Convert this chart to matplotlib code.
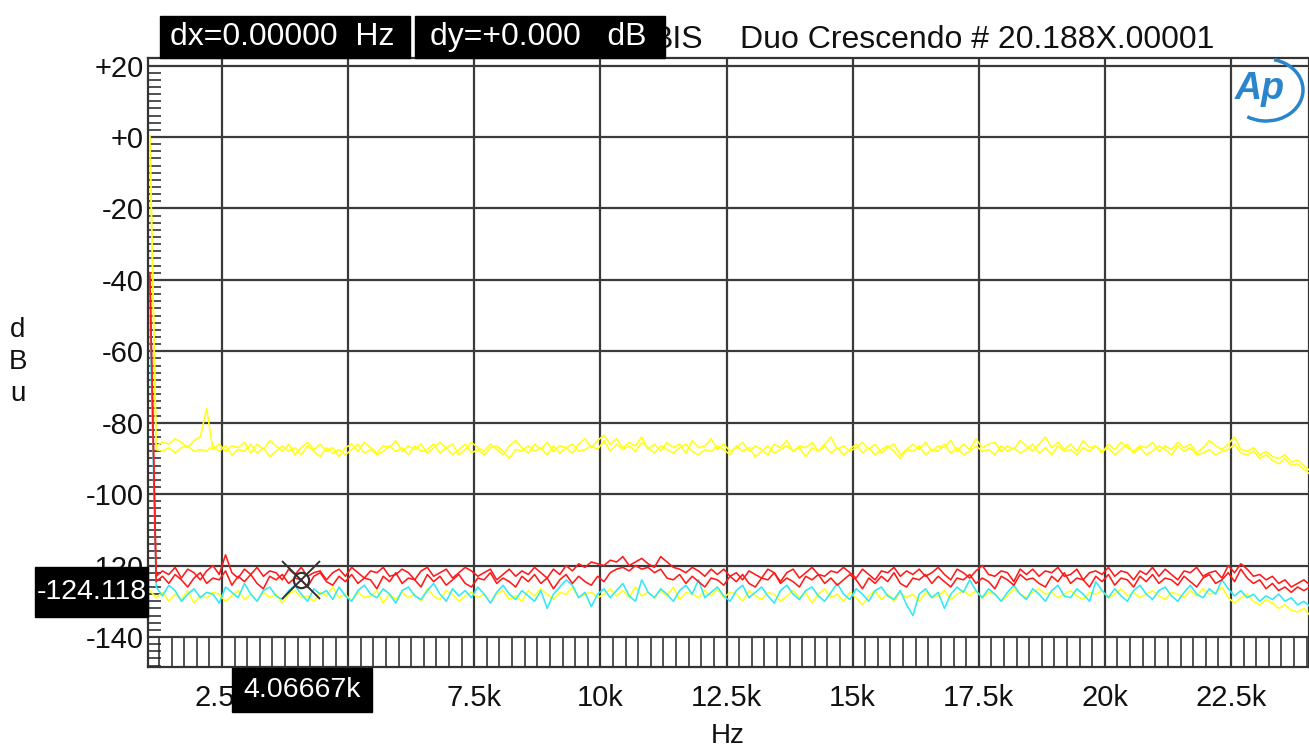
import numpy as np
import matplotlib.pyplot as plt
from matplotlib.patches import Rectangle, Arc

plt.rcParams['font.family'] = ['Liberation Sans', 'DejaVu Sans']

# FFT bins: first bin and spacing (Hz)
F0 = 1070.0
DF = 125.0

# upper yellow pair (dBu)
yel_a = [0.0,
    -86.5, -85.5, -86, -84.5, -85.5, -87, -85, -84, -76, -87.5,
    -86, -88, -86.5, -87, -85.5, -88.5, -86, -87.5, -85, -86.5,
    -88, -86, -89, -87, -85.5, -87.5, -86, -88, -87, -89.5,
    -87, -86, -88, -85.5, -87, -88.5, -86.5, -87, -85, -88,
    -86.5, -87.5, -86, -88.5, -87, -85.5, -87, -86, -89, -87.5,
    -85.5, -87, -88, -86, -87.5, -89, -86.5, -85, -87, -88.5,
    -86, -87.5, -85.5, -88, -86.5, -87, -88.5, -86, -84.5, -87,
    -85, -83.5, -86, -84.5, -87, -85.5, -86.5, -84, -87.5, -86,
    -88, -85.5, -87, -86, -88.5, -85, -87, -86.5, -84.5, -87.5,
    -86, -88, -87, -85.5, -88, -86.5, -87.5, -89, -86, -87,
    -85, -88, -86.5, -87, -85.5, -88, -86, -84, -87.5, -86.5,
    -88, -87, -85.5, -87.5, -86, -88.5, -87, -86, -89, -87.5,
    -86, -87.5, -85.5, -88, -86.5, -87, -85, -88, -86, -87.5,
    -84.5, -87, -86, -85.5, -88, -86.5, -87.5, -85, -86.5, -88,
    -86, -84, -87, -85.5, -87.5, -86, -88, -85, -87, -86.5,
    -88.5, -86, -87.5, -85.5, -87, -88, -86.5, -87, -85.5, -88,
    -86.5, -87.5, -85.5, -87, -86, -88.5, -87, -85, -86.5, -87.5,
    -86, -84, -87.5, -88, -87, -89, -88, -89.5, -90, -89,
    -91, -90.5, -92, -93.5]
yel_b = [0.0,
    -87.5, -88, -87, -88.5, -87, -86.5, -88, -87.5, -88, -86.5,
    -88, -86.5, -89, -87.5, -88, -86, -88.5, -87, -89.5, -88,
    -86.5, -88, -87, -89, -86.5, -88, -89.5, -87, -88.5, -87.5,
    -89, -87.5, -86, -88.5, -87.5, -89, -88, -86.5, -88, -87,
    -89, -86.5, -88, -87.5, -86, -88.5, -87, -89, -87.5, -86,
    -88.5, -87.5, -89, -87, -86.5, -88, -90, -87.5, -88, -86.5,
    -88, -87, -89, -86.5, -88.5, -87, -86, -88, -87.5, -86.5,
    -87.5, -85, -88, -86, -87.5, -86.5, -88, -85.5, -87, -88.5,
    -86.5, -87.5, -88.5, -87, -86, -88, -89, -87.5, -88, -86.5,
    -87.5, -89, -86.5, -88, -87, -89.5, -88, -86.5, -88.5, -87.5,
    -86.5, -88, -87, -89.5, -87, -88, -86.5, -88.5, -87, -89,
    -87.5, -86, -88.5, -87, -89, -87.5, -86.5, -88, -90, -87.5,
    -88, -86.5, -89, -87.5, -88, -86, -88.5, -87, -89, -88,
    -86.5, -88, -87.5, -89, -86.5, -88, -87, -88.5, -87.5, -86,
    -88.5, -87, -89, -86.5, -88, -87.5, -89, -87, -88, -86.5,
    -88, -87, -89, -87.5, -86, -88.5, -87, -89, -88, -86.5,
    -87.5, -89, -86.5, -88, -87, -89, -88.5, -87.5, -89, -88,
    -87.5, -86, -88.5, -89, -88, -90, -89, -90.5, -91.5, -90,
    -92, -91.5, -93, -94.5]

# red pair
red_a = [-38.0,
    -123, -121.5, -122.5, -120.5, -123.5, -121, -122, -124, -121.5, -120,
    -122.5, -117, -122, -123.5, -121, -122.5, -120.5, -123, -121.5, -122,
    -124, -121, -122.5, -120.5, -123, -122, -121.5, -124, -122, -121,
    -123, -120.5, -122, -123.5, -121.5, -122, -120.5, -123, -122.5, -121,
    -122, -124, -121.5, -120.5, -123, -122, -121, -123.5, -122, -120.5,
    -121.5, -123, -122, -121, -124, -122.5, -121, -123, -121.5, -122.5,
    -120.5, -122, -123.5, -121, -122.5, -120, -121.5, -119.5, -120.5, -119,
    -119.5, -120, -118.5, -119, -117.5, -120, -119, -118, -119.5, -120.5,
    -117.5, -119, -120.5, -121, -122, -120.5, -121.5, -123, -121, -122.5,
    -121, -123, -122, -124, -121.5, -122.5, -123.5, -121, -122, -124.5,
    -122, -121, -123.5, -122, -120.5, -122.5, -123, -121.5, -122, -120.5,
    -122, -123.5, -121, -122.5, -124, -121.5, -122, -120.5, -123, -121.5,
    -122.5, -121, -123, -122, -120.5, -122.5, -124, -121, -122, -123.5,
    -121.5, -120, -122.5, -123, -121.5, -122, -124.5, -121, -122.5, -121,
    -123, -121.5, -122, -120.5, -123, -122.5, -121, -124, -122, -121.5,
    -122.5, -120.5, -123, -121.5, -122, -124, -121.5, -122.5, -120.5, -123,
    -121, -122.5, -124, -121.5, -122, -120.5, -123, -122, -121.5, -123.5,
    -120, -122, -119.5, -121, -123, -122.5, -124, -123, -125, -124,
    -126, -125, -124, -125.5]
red_b = [-39.0,
    -124.5, -123, -125, -122.5, -124, -126, -123.5, -122, -125, -123.5,
    -124, -121.5, -125.5, -123, -124.5, -122.5, -125, -126.5, -123, -124,
    -122.5, -125, -123.5, -124, -126, -123, -122, -124.5, -125.5, -123,
    -124.5, -122.5, -125, -123.5, -124, -126.5, -123, -124.5, -122, -125,
    -123.5, -124, -126, -122.5, -124.5, -123, -125.5, -124, -122.5, -125,
    -126, -123.5, -124, -122, -125, -123.5, -124.5, -126, -123, -124.5,
    -122.5, -125, -123.5, -126.5, -124, -122.5, -125, -123, -124.5, -125.5,
    -123, -124.5, -122, -121, -120.5, -121.5, -120, -121, -120.5, -122,
    -121, -123.5, -124, -122.5, -125, -123, -124.5, -126, -123.5, -124,
    -125.5, -123, -124.5, -122.5, -125, -126, -123.5, -124, -122, -125,
    -123.5, -124.5, -126, -123, -124, -122.5, -125, -123.5, -125.5, -124,
    -122.5, -124, -126.5, -123.5, -125, -123, -124.5, -122, -125, -126,
    -123.5, -124, -122.5, -125, -123, -124.5, -126, -123.5, -124, -122.5,
    -125, -123.5, -124.5, -126.5, -123, -124, -125.5, -122.5, -124, -123.5,
    -125, -126, -123, -124.5, -122, -125, -123.5, -124, -126, -123,
    -124.5, -122.5, -125.5, -123.5, -124, -126, -123, -124.5, -122.5, -125,
    -123.5, -124, -125.5, -123, -124.5, -126, -123.5, -122.5, -125, -124,
    -122, -124.5, -121, -123.5, -125, -124, -126.5, -125, -127, -126,
    -127.5, -126, -127, -126]

# cyan
cyan = [-50.0,
    -126, -128.5, -125.5, -127, -130, -128, -126.5, -129, -127.5, -128,
    -130.5, -126, -127.5, -129, -125, -128, -130, -127, -126, -128.5,
    -129.5, -127, -125.5, -128, -130, -126.5, -128, -127, -129.5, -126,
    -128.5, -130, -127, -125.5, -128, -129, -126.5, -128, -130.5, -127,
    -126, -128.5, -129.5, -127, -125, -128, -130, -126.5, -128.5, -127,
    -129, -126, -128, -130.5, -127.5, -125.5, -128, -129.5, -127, -128.5,
    -130, -127, -132, -128, -126, -124, -125.5, -129, -127.5, -131.5,
    -128, -126.5, -129, -127, -125, -128.5, -130, -124, -127.5, -129,
    -126.5, -128, -130, -127, -125.5, -128, -124, -129, -127.5, -126,
    -128.5, -130, -127, -125.5, -129, -127.5, -126, -128.5, -130.5, -127,
    -125.5, -128, -129.5, -127, -126, -128.5, -130, -127.5, -125, -128,
    -129.5, -126.5, -128, -130, -127, -126, -128.5, -129.5, -127, -131,
    -134, -128, -126.5, -129, -127.5, -132, -128, -126, -127.5, -124,
    -127, -129, -126.5, -128, -130, -127.5, -125.5, -128, -129.5, -126.5,
    -128, -130, -127, -125.5, -128.5, -129, -126.5, -128, -130, -124.5,
    -127, -129, -126.5, -128.5, -130, -127, -125.5, -128, -129.5, -127,
    -126, -128.5, -130, -127.5, -125.5, -128, -129, -126.5, -128, -124,
    -126.5, -128.5, -127, -129, -128, -130, -128.5, -129.5, -128, -130,
    -129, -131, -130, -131.5]

# lower yellow
yel_low = [-127.0,
    -129, -127.5, -130, -128, -129.5, -127, -130.5, -128.5, -129, -127.5,
    -128, -130, -128.5, -127, -129.5, -128, -130, -127.5, -129, -128,
    -130.5, -128, -127, -129, -128.5, -130, -127.5, -128.5, -126, -129,
    -128, -130, -127.5, -129, -128.5, -127, -130.5, -128, -129.5, -127.5,
    -129, -128, -130, -126.5, -128.5, -129.5, -127, -128, -130, -128.5,
    -127.5, -129, -128, -130.5, -128, -127, -129.5, -128.5, -130, -127,
    -128.5, -126.5, -128, -129.5, -127.5, -128, -126, -129, -128, -127.5,
    -129, -128, -126.5, -128.5, -127, -129, -126, -128.5, -127.5, -129,
    -127, -128.5, -126, -129.5, -127.5, -128, -129, -127, -128.5, -126.5,
    -129, -127.5, -128, -130, -127, -128.5, -129.5, -127.5, -128, -130,
    -128.5, -127, -129, -127.5, -130.5, -128, -126.5, -129, -128, -130,
    -127.5, -129, -131, -128.5, -127, -129.5, -128, -130, -127.5, -129,
    -128, -130, -127.5, -129, -128.5, -127, -129.5, -128, -127, -128.5,
    -127, -129, -127.5, -128, -130, -128.5, -126.5, -128, -129, -127.5,
    -126.5, -128, -127.5, -129, -128, -127, -128.5, -129.5, -127.5, -128,
    -127, -129, -128, -126.5, -128.5, -127.5, -129, -128, -127, -128.5,
    -129.5, -127.5, -128, -129, -127, -128.5, -126.5, -128, -127.5, -126,
    -129, -130.5, -129, -128, -130, -131, -129.5, -130.5, -132, -131,
    -132.5, -133, -132, -134]

x_major = [2500, 5000, 7500, 10000, 12500, 15000, 17500, 20000, 22500]
x_labels = ['2.5k', '5k', '7.5k', '10k', '12.5k', '15k', '17.5k', '20k', '22.5k']
y_major = [20, 0, -20, -40, -60, -80, -100, -120, -140]
y_labels = ['+20', '+0', '-20', '-40', '-60', '-80', '-100', '-120', '-140']

cursor_hz = 4066.67
cursor_db = -124.118


def freqs(v):
    return F0 + DF * np.arange(len(v))


W, H = 1309, 749
fig = plt.figure(figsize=(W / 100, H / 100), dpi=100)
ax = fig.add_axes([148 / W, 1 - 667 / H, (W - 148) / W, (667 - 58) / H])

for v, c in [(yel_a, '#ffff1a'), (yel_b, '#ffff1a'), (yel_low, '#ffff1a'),
             (cyan, '#33e8f5'), (red_a, '#ff1a1a'), (red_b, '#ff1a1a')]:
    ax.plot(freqs(v), v, color=c, lw=1.15, zorder=3)

# cursor
ax.plot(cursor_hz, cursor_db, marker='x', ms=28, mew=1.4, color='#333333', zorder=5)
ax.plot(cursor_hz, cursor_db, marker='o', ms=11, mfc='none', mew=1.6, mec='#333333', zorder=5)

ax.set_xlim(1033, 24046)
ax.set_ylim(-148.4, 22.1)
ax.set_xticks(x_major)
ax.set_xticklabels(x_labels, fontsize=21, color='#111111')
ax.set_yticks(y_major)
ax.set_yticklabels(y_labels, fontsize=21, color='#111111')
ax.set_xticks(np.arange(1250, 24001, 250), minor=True)
ax.set_yticks(np.arange(-148, 21, 2), minor=True)
ax.tick_params(which='major', length=0)
ax.tick_params(axis='x', which='major', pad=12)
ax.tick_params(axis='y', which='major', pad=3)
ax.tick_params(axis='x', which='minor', direction='in', length=21.5, width=1.1,
               color='#222222', top=False, bottom=True)
ax.tick_params(axis='y', which='minor', direction='in', length=9, width=1.1,
               color='#222222', left=True, right=False)
ax.grid(which='major', color='#3a3a3a', lw=1.6, zorder=1)
for s in ax.spines.values():
    s.set_color('#333333')
    s.set_linewidth(1.6)

fig.text(18 / W, 1 - 362 / H, 'd\nB\nu', fontsize=20, ha='center', va='center',
         linespacing=1.3, color='#111111')
fig.text(728 / W, 1 - 736 / H, 'Hz', fontsize=20, ha='center', va='center', color='#111111')

# overlay in pixel coordinates for readouts, header and logo
ov = fig.add_axes([0, 0, 1, 1], zorder=10)
ov.set_xlim(0, W)
ov.set_ylim(H, 0)
ov.axis('off')

ov.text(703, 40, 'BIS', fontsize=23, ha='right', va='center', color='#111111', zorder=1)
ov.text(740, 40, 'Duo Crescendo # 20.188X.00001', fontsize=23, ha='left', va='center',
        color='#111111')

ov.add_patch(Rectangle((160, 16), 250, 42, color='black', zorder=5))
ov.add_patch(Rectangle((415, 16), 250, 42, color='black', zorder=5))
ov.text(170, 37, 'dx=0.00000  Hz', fontsize=23, color='white', va='center', zorder=6)
ov.text(430, 37, 'dy=+0.000   dB', fontsize=23, color='white', va='center', zorder=6)

ov.add_patch(Rectangle((35, 567), 113, 50, color='black', zorder=5))
ov.text(92, 592, '%.3f' % cursor_db, fontsize=20.5, color='white', ha='center', va='center',
        zorder=6)
ov.add_patch(Rectangle((232, 668), 140, 44, color='black', zorder=5))
ov.text(302, 690, '%.5fk' % (cursor_hz / 1000), fontsize=20.5, color='white',
        ha='center', va='center', zorder=6)

# AP logo
ov.text(1260, 89, 'Ap', fontsize=27, fontweight='bold', style='italic',
        color='#2a86cc', ha='center', va='center')
ov.add_patch(Arc((1266, 90), 74, 62, theta1=-75, theta2=125, color='#2a86cc', lw=2.5))

fig.savefig('out.png', dpi=100)
